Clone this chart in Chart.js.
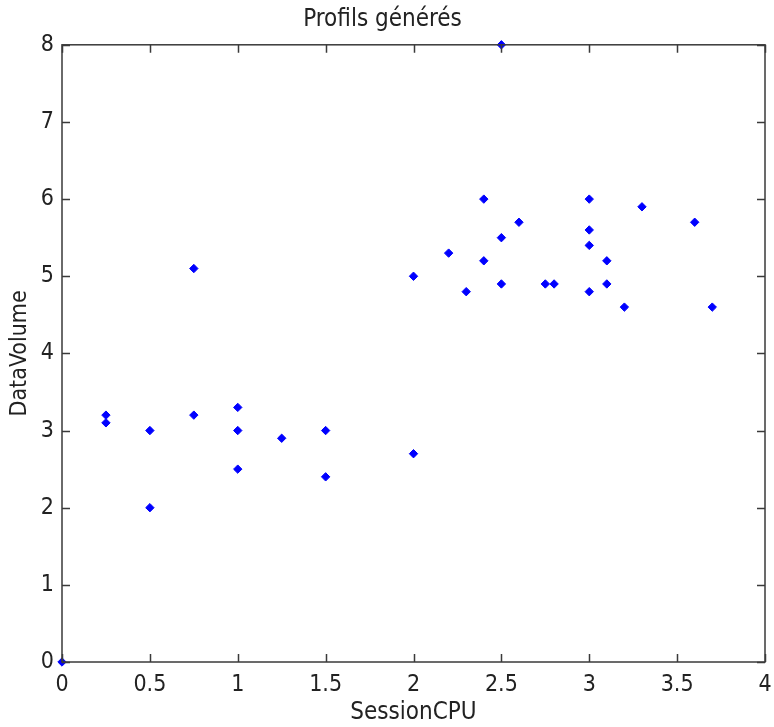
<!DOCTYPE html>
<html>
<head>
<meta charset="utf-8">
<script src="https://cdn.jsdelivr.net/npm/chart.js@4/dist/chart.umd.min.js"></script>
<style>
  html, body { margin: 0; padding: 0; background: #fff; }
  #wrap { width: 774px; height: 727px; }
</style>
</head>
<body>
<div id="wrap"><canvas id="c" width="774" height="727"></canvas></div>
<script>
// ---- data ----
const sessionCPU = [0, 0.25, 0.25, 0.5, 0.5, 0.75, 0.75, 1, 1, 1, 1.25, 1.5, 1.5, 2, 2, 2.2, 2.3, 2.4, 2.4, 2.5, 2.5, 2.5, 2.6, 2.75, 2.8, 3, 3, 3, 3, 3.1, 3.1, 3.2, 3.3, 3.6, 3.7];
const dataVolume = [0, 3.2, 3.1, 3.0, 2.0, 3.2, 5.1, 3.3, 3.0, 2.5, 2.9, 3.0, 2.4, 2.7, 5.0, 5.3, 4.8, 6.0, 5.2, 8.0, 5.5, 4.9, 5.7, 4.9, 4.9, 6.0, 5.6, 5.4, 4.8, 5.2, 4.9, 4.6, 5.9, 5.7, 4.6];
const xTickValues = [0, 0.5, 1, 1.5, 2, 2.5, 3, 3.5, 4];
const yTickValues = [0, 1, 2, 3, 4, 5, 6, 7, 8];
const chartTitle = 'Profils générés';
const xTitle = 'SessionCPU';
const yTitle = 'DataVolume';

const points = sessionCPU.map((x, i) => ({ x: x, y: dataVolume[i] }));
const FONT = '"Liberation Sans Narrow", "Arial Narrow", "DejaVu Sans Condensed", "Liberation Sans", sans-serif';
const AXIS_COLOR = '#3a3a3a';

// inward ticks + full box, MATLAB style
const boxTicks = {
  id: 'boxTicks',
  afterDatasetsDraw(chart) {
    const { ctx, chartArea: a, scales } = chart;
    const len = 8;
    ctx.save();
    ctx.strokeStyle = AXIS_COLOR;
    ctx.lineWidth = 1.5;
    ctx.strokeRect(a.left, a.top, a.right - a.left, a.bottom - a.top);
    ctx.beginPath();
    scales.x.ticks.forEach(t => {
      const px = Math.round(scales.x.getPixelForValue(t.value)) + 0.5;
      ctx.moveTo(px, a.bottom); ctx.lineTo(px, a.bottom - len);
      ctx.moveTo(px, a.top); ctx.lineTo(px, a.top + len);
    });
    scales.y.ticks.forEach(t => {
      const py = Math.round(scales.y.getPixelForValue(t.value)) + 0.5;
      ctx.moveTo(a.left, py); ctx.lineTo(a.left + len, py);
      ctx.moveTo(a.right, py); ctx.lineTo(a.right - len, py);
    });
    ctx.stroke();
    ctx.restore();
  }
};

new Chart(document.getElementById('c'), {
  type: 'scatter',
  data: {
    datasets: [{
      data: points,
      pointStyle: 'rectRot',
      pointRadius: 4.2,
      pointHoverRadius: 4.2,
      backgroundColor: '#0000ff',
      borderColor: '#0000ff',
      borderWidth: 1,
      clip: false
    }]
  },
  options: {
    responsive: false,
    animation: false,
    events: [],
    layout: { padding: { left: 0, right: 9, top: 0, bottom: 0 } },
    plugins: {
      legend: { display: false },
      tooltip: { enabled: false },
      title: {
        display: true,
        text: chartTitle,
        color: '#222',
        font: { family: FONT, size: 24, weight: 'normal', lineHeight: 1.2 },
        padding: { top: 5, bottom: 11 }
      }
    },
    scales: {
      x: {
        type: 'linear',
        min: 0, max: 4,
        afterBuildTicks: s => { s.ticks = xTickValues.map(v => ({ value: v })); },
        afterFit: s => { s.height = 65; s.paddingRight = 0; s.paddingLeft = 0; },
        grid: { display: false, drawTicks: false },
        border: { display: false },
        ticks: {
          color: '#222',
          padding: 9,
          maxRotation: 0,
          autoSkip: false,
          font: { family: FONT, size: 23 },
          callback: v => String(v)
        },
        title: {
          display: true,
          text: xTitle,
          color: '#222',
          font: { family: FONT, size: 24 },
          padding: { top: 0, bottom: 0 }
        }
      },
      y: {
        type: 'linear',
        min: 0, max: 8,
        afterBuildTicks: s => { s.ticks = yTickValues.map(v => ({ value: v })); },
        afterFit: s => { s.width = 62; },
        grid: { display: false, drawTicks: false },
        border: { display: false },
        ticks: {
          color: '#222',
          padding: 8,
          autoSkip: false,
          font: { family: FONT, size: 23 },
          callback: v => String(v)
        },
        title: {
          display: true,
          text: yTitle,
          color: '#222',
          font: { family: FONT, size: 23 },
          padding: { top: 6, bottom: 0 }
        }
      }
    }
  },
  plugins: [boxTicks]
});
</script>
</body>
</html>
